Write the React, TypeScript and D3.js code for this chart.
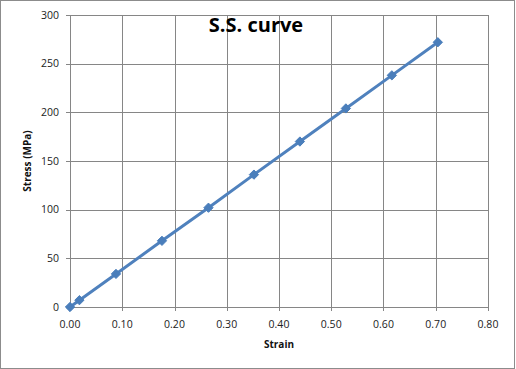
import React, { useEffect, useRef } from "react";
import * as d3 from "d3";

const strain = [0, 0.018, 0.088, 0.176, 0.265, 0.352, 0.44, 0.528, 0.616, 0.704];
const stress = [0, 7, 34, 68, 102, 136, 170, 204, 238, 272];
const xTicks = [0, 0.1, 0.2, 0.3, 0.4, 0.5, 0.6, 0.7, 0.8];
const yTicks = [0, 50, 100, 150, 200, 250, 300];

const W = 516;
const H = 369;
const FONT = "'Open Sans', 'Noto Sans', sans-serif";

export default function App() {
  const svgRef = useRef<SVGSVGElement | null>(null);

  useEffect(() => {
    if (!svgRef.current) return;
    const svg = d3.select(svgRef.current);
    svg.selectAll("*").remove();

    const left = 70, right = 488, top = 15, bottom = 307;
    const x = d3.scaleLinear().domain([0, 0.8]).range([left, right]);
    const y = d3.scaleLinear().domain([0, 300]).range([bottom, top]);

    // chart border
    svg.append("rect")
      .attr("x", 0.5).attr("y", 0.5)
      .attr("width", W - 2).attr("height", H - 1)
      .attr("fill", "#fff")
      .attr("stroke", "#8c8c8c");

    // grid
    const grid = svg.append("g").attr("stroke", "#868686").attr("stroke-width", 1);
    xTicks.forEach(t => {
      grid.append("line")
        .attr("x1", Math.round(x(t)) + 0.5).attr("x2", Math.round(x(t)) + 0.5)
        .attr("y1", top).attr("y2", bottom + 4);
    });
    yTicks.forEach(t => {
      grid.append("line")
        .attr("x1", left - 4).attr("x2", right)
        .attr("y1", Math.round(y(t)) + 0.5).attr("y2", Math.round(y(t)) + 0.5);
    });

    // tick labels
    svg.append("g")
      .selectAll("text")
      .data(xTicks)
      .join("text")
      .attr("x", d => x(d))
      .attr("y", 328)
      .attr("text-anchor", "middle")
      .attr("font-family", FONT)
      .attr("font-size", 10.5)
      .attr("fill", "#222")
      .text(d => d.toFixed(2));

    svg.append("g")
      .selectAll("text")
      .data(yTicks)
      .join("text")
      .attr("x", 59)
      .attr("y", d => y(d))
      .attr("dy", "0.35em")
      .attr("text-anchor", "end")
      .attr("font-family", FONT)
      .attr("font-size", 10.5)
      .attr("fill", "#222")
      .text(d => d);

    // series line
    const pts = strain.map((s, i) => [s, stress[i]] as [number, number]);
    const line = d3.line<[number, number]>().x(d => x(d[0])).y(d => y(d[1]));
    svg.append("path")
      .datum(pts)
      .attr("d", line)
      .attr("fill", "none")
      .attr("stroke", "#4f81bd")
      .attr("stroke-width", 3);

    const diamond = d3.symbol().type(d3.symbolDiamond2).size(55);
    svg.append("g")
      .selectAll("path")
      .data(pts)
      .join("path")
      .attr("d", diamond)
      .attr("transform", d => `translate(${x(d[0])},${y(d[1])})`)
      .attr("fill", "#4a7ebb")
      .attr("stroke", "#4a7ebb");

    // title
    svg.append("text")
      .attr("x", 256)
      .attr("y", 32)
      .attr("text-anchor", "middle")
      .attr("font-family", FONT)
      .attr("font-weight", "bold")
      .attr("font-size", 20)
      .attr("fill", "#000")
      .text("S.S. curve");

    // axis titles
    svg.append("text")
      .attr("x", 279)
      .attr("y", 348)
      .attr("text-anchor", "middle")
      .attr("font-family", FONT)
      .attr("font-weight", "bold")
      .attr("font-size", 10)
      .attr("fill", "#111")
      .text("Strain");

    svg.append("text")
      .attr("transform", `translate(31,${(top + bottom) / 2}) rotate(-90)`)
      .attr("text-anchor", "middle")
      .attr("font-family", FONT)
      .attr("font-weight", "bold")
      .attr("font-size", 10)
      .attr("fill", "#111")
      .text("Stress (MPa)");
  }, []);

  return (
    <svg
      ref={svgRef}
      width={W}
      height={H}
      style={{ position: "fixed", left: 0, top: 0, background: "#fff" }}
    />
  );
}
